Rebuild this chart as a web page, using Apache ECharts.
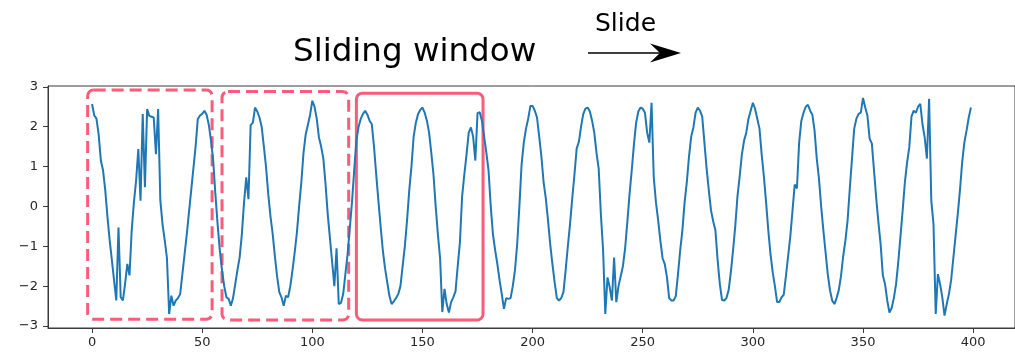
<!DOCTYPE html>
<html>
<head>
<meta charset="utf-8">
<script src="https://cdn.jsdelivr.net/npm/echarts@6/dist/echarts.min.js"></script>
<style>
  html, body { margin: 0; padding: 0; background: #ffffff; }
  #chart { width: 1015px; height: 354px; }
</style>
</head>
<body>
<div id="chart"></div>
<script>
// Sampled signal, one row per 25-sample cycle (400 samples, index 0..399)
const signal = [
  2.57, 2.28, 2.2, 1.8, 1.15, 0.9, 0.4, -0.27, -0.85, -1.35, -1.86, -2.36, -0.53, -2.28, -2.36, -1.94, -1.44, -1.73, -0.6, 0.1, 0.65, 1.44, 0.14, 2.32, 0.48,
  2.44, 2.27, 2.25, 2.23, 1.31, 2.44, 0.15, -0.45, -0.85, -1.3, -2.7, -2.24, -2.49, -2.36, -2.3, -2.2, -1.7, -1.2, -0.7, -0.15, 0.4, 0.95, 1.5, 2.19, 2.28,
  2.32, 2.4, 2.3, 2.05, 1.65, 1.15, 0.3, -0.45, -1.1, -1.6, -2.0, -2.28, -2.32, -2.49, -2.3, -1.95, -1.6, -1.28, -0.7, 0.1, 0.73, 0.18, 2.04, 2.1, 2.48,
  2.38, 2.23, 2.0, 1.5, 0.98, 0.3, -0.25, -0.69, -1.25, -1.75, -2.15, -2.28, -2.49, -2.24, -2.28, -2.0, -1.6, -1.15, -0.65, 0.0, 0.6, 1.35, 1.81, 2.05, 2.3,
  2.65, 2.5, 2.2, 1.73, 1.5, 1.2, 0.56, -0.2, -0.8, -1.4, -2.0, -1.05, -2.45, -2.42, -2.2, -1.7, -1.2, -0.55, 0.1, 0.9, 1.65, 2.0, 2.2, 2.32, 2.4,
  2.3, 2.15, 2.06, 1.5, 0.8, 0.14, -0.5, -1.1, -1.55, -1.9, -2.25, -2.45, -2.38, -2.3, -2.2, -2.0, -1.5, -1.0, -0.35, 0.4, 1.0, 1.75, 2.1, 2.32, 2.42,
  2.48, 2.35, 2.15, 1.85, 1.35, 0.8, 0.0, -0.7, -1.3, -2.65, -2.07, -2.45, -2.66, -2.4, -2.28, -2.13, -1.5, -0.9, 0.25, 0.8, 1.3, 1.85, 1.98, 1.75, 1.15,
  2.34, 2.36, 2.15, 1.75, 1.35, 0.9, 0.0, -0.7, -1.1, -1.45, -1.85, -2.2, -2.57, -2.3, -2.32, -2.3, -2.0, -1.6, -0.95, 0.0, 1.05, 1.6, 1.95, 2.2, 2.52,
  2.52, 2.4, 2.23, 1.75, 1.25, 0.6, 0.2, -0.35, -0.95, -1.45, -1.9, -2.3, -2.36, -2.3, -2.15, -1.6, -1.0, -0.44, 0.2, 0.8, 1.45, 1.62, 2.0, 2.32, 2.45,
  2.48, 2.38, 2.15, 1.85, 1.35, 0.95, -0.2, -1.1, -2.7, -1.78, -2.03, -2.36, -1.28, -2.4, -2.0, -1.75, -1.5, -1.05, -0.4, 0.3, 0.9, 1.55, 2.1, 2.38, 2.48,
  2.45, 2.35, 1.85, 1.6, 2.6, 0.73, 0.1, -0.35, -0.86, -1.3, -1.45, -1.78, -2.3, -2.36, -2.36, -2.25, -1.7, -1.1, -0.6, 0.1, 0.6, 1.25, 1.75, 1.98, 2.35,
  2.48, 2.4, 2.25, 1.6, 0.95, 0.4, -0.1, -0.38, -0.6, -1.35, -1.95, -2.35, -2.36, -2.3, -2.1, -1.65, -1.1, -0.5, 0.25, 0.75, 1.3, 1.65, 1.85, 2.2, 2.4,
  2.6, 2.45, 2.2, 1.95, 1.3, 0.75, 0.1, -0.6, -1.2, -1.65, -2.0, -2.4, -2.4, -2.28, -2.22, -1.75, -1.25, -0.75, -0.1, 0.55, 0.45, 1.6, 2.15, 2.35, 2.5,
  2.55, 2.4, 2.3, 1.9, 1.2, 0.7, 0.0, -0.6, -1.15, -1.7, -2.1, -2.36, -2.45, -2.3, -2.1, -1.75, -1.25, -0.86, -0.35, 0.45, 1.2, 1.95, 2.2, 2.32, 2.35,
  2.72, 2.48, 2.28, 1.7, 1.58, 0.9, 0.2, -0.4, -0.95, -1.73, -1.95, -2.36, -2.66, -2.55, -2.3, -1.95, -1.4, -0.75, -0.1, 0.6, 1.1, 1.48, 2.25, 2.4, 2.35,
  2.5, 2.57, 2.06, 1.73, 1.2, 2.7, 0.14, -0.44, -2.7, -1.7, -1.95, -2.28, -2.74, -2.45, -2.2, -1.85, -1.3, -0.75, -0.2, 0.4, 1.1, 1.6, 1.9, 2.23, 2.48
];

const xTicks = [0, 50, 100, 150, 200, 250, 300, 350, 400];
const yTicks = [-3, -2, -1, 0, 1, 2, 3];

// Window extents in data units (first two dashed, last solid = current window)
const windowStart  = [-2, 59, 120];
const windowEnd    = [54.5, 116.5, 177.5];
const windowTop    = [2.92, 2.88, 2.84];
const windowBottom = [-2.83, -2.85, -2.85];
const windowDashed = [1, 1, 0];

const titleText = 'Sliding window';
const slideText = 'Slide';

const points = signal.map((v, i) => [i, v]);
const windows = windowStart.map((s, i) => [s, windowEnd[i], windowBottom[i], windowTop[i], windowDashed[i]]);

const FONT = '"DejaVu Sans", sans-serif';
const AXIS_COLOR = '#3a3a3a';
const LABEL_COLOR = '#262626';
const WINDOW_COLOR = '#fc5b7a';

const chart = echarts.init(document.getElementById('chart'), null, { renderer: 'canvas' });

chart.setOption({
  animation: false,
  backgroundColor: '#ffffff',
  title: {
    text: titleText,
    left: 293,
    top: 36,
    padding: 0,
    textStyle: { fontFamily: FONT, fontSize: 32.5, fontWeight: 'normal', color: '#000000' }
  },
  graphic: [
    {
      type: 'text',
      left: 595,
      top: 12,
      style: { text: slideText, font: '25px "DejaVu Sans", sans-serif', fill: '#000000' }
    },
    {
      type: 'line',
      shape: { x1: 588, y1: 53, x2: 668, y2: 53 },
      style: { stroke: '#000000', lineWidth: 1.6 }
    },
    {
      type: 'polygon',
      shape: { points: [[681, 53], [650, 43.5], [660, 53], [650, 62.5]] },
      style: { fill: '#000000' }
    }
  ],
  // plot frame: the right edge falls outside the canvas
  grid: { left: 48, top: 86, width: 975, height: 242, containLabel: false, show: true, borderColor: AXIS_COLOR, borderWidth: 1, backgroundColor: 'transparent' },
  xAxis: {
    type: 'value',
    min: -20,
    max: 419,
    axisLine: { show: true, onZero: false, lineStyle: { color: AXIS_COLOR, width: 1 } },
    axisTick: { show: true, length: 5, lineStyle: { color: AXIS_COLOR }, customValues: xTicks },
    axisLabel: { customValues: xTicks, fontFamily: FONT, fontSize: 13, color: LABEL_COLOR, margin: 8 },
    splitLine: { show: false }
  },
  yAxis: {
    type: 'value',
    min: -3.05,
    max: 3.02,
    axisLine: { show: true, onZero: false, lineStyle: { color: AXIS_COLOR, width: 1 } },
    axisTick: { show: true, length: 5, lineStyle: { color: AXIS_COLOR }, customValues: yTicks },
    axisLabel: {
      customValues: yTicks,
      fontFamily: FONT, fontSize: 13, color: LABEL_COLOR, margin: 10,
      formatter: v => String(v).replace('-', '\u2212')
    },
    splitLine: { show: false }
  },
  series: [
    {
      type: 'custom',
      z: 1,
      clip: false,
      data: windows,
      renderItem: (params, api) => {
        const p0 = api.coord([api.value(0), api.value(3)]);
        const p1 = api.coord([api.value(1), api.value(2)]);
        const dashed = api.value(4) === 1;
        return {
          type: 'rect',
          shape: { x: p0[0], y: p0[1], width: p1[0] - p0[0], height: p1[1] - p0[1], r: 6 },
          style: { fill: null, stroke: WINDOW_COLOR, lineWidth: 3, lineDash: dashed ? [12, 6] : null }
        };
      }
    },
    {
      type: 'line',
      z: 3,
      data: points,
      showSymbol: false,
      symbol: 'none',
      lineStyle: { color: '#1f77b4', width: 2 },
      emphasis: { disabled: true }
    }
  ]
});
</script>
</body>
</html>
